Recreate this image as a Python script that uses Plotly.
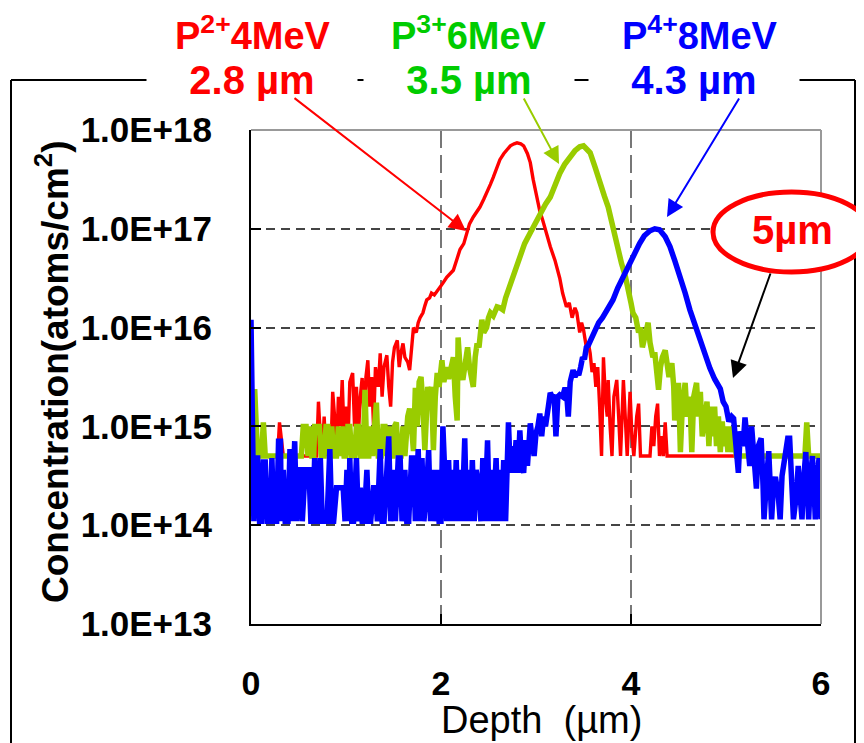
import numpy as np
import plotly.graph_objects as go

# ---------------- data (log10 of concentration, atoms/cm^2) ----------------
red_depth = [0.00,0.28,0.30,0.32,0.34,0.69,0.71,0.73,0.75,0.77,0.79,0.82,0.84,0.86,0.88,0.90,0.92,0.94,0.96,0.98,
             1.00,1.02,1.04,1.07,1.09,1.11,1.13,1.15,1.17,1.19,1.21,1.23,1.25,1.27,1.29,1.31,1.34,1.36,1.38,1.40,
             1.43,1.45,1.47,1.49,1.51,1.54,1.56,1.58,1.60,1.62,1.65,1.67,1.69,1.71,1.74,1.76,1.78,1.81,1.83,1.85,
             1.88,1.90,1.93,1.96,1.99,2.02,2.06,2.10,2.13,2.17,2.20,2.24,2.27,2.30,2.34,2.38,2.41,2.45,2.48,2.52,
             2.55,2.59,2.62,2.66,2.69,2.73,2.77,2.80,2.84,2.87,2.91,2.94,2.97,3.01,3.04,3.07,3.11,3.15,3.20,3.25,
             3.28,3.32,3.35,3.38,3.41,3.43,3.46,3.48,3.50,3.53,3.55,3.57,3.59,3.61,3.63,3.65,3.67,3.69,3.71,3.73,
             3.75,3.76,3.78,3.80,3.82,3.85,3.87,3.89,3.92,3.94,3.96,3.99,4.01,4.03,4.06,4.08,4.10,4.20,4.22,4.24,
             4.26,4.28,4.30,4.32,4.34,4.36,4.38,6.00]
red_log = [14.70,14.70,15.04,14.85,14.70,14.70,15.25,14.90,14.70,15.10,14.70,15.00,14.70,15.35,15.10,14.70,15.30,15.00,15.47,14.90,
           15.20,14.80,15.45,15.54,15.00,15.40,14.90,15.30,15.49,15.10,15.50,15.67,15.20,15.50,15.00,15.60,15.40,15.74,15.30,15.60,
           15.72,15.40,15.20,15.65,15.80,15.87,15.60,15.75,15.84,15.70,15.65,15.57,15.80,16.00,15.95,16.05,16.10,16.15,16.22,16.28,
           16.30,16.35,16.33,16.37,16.40,16.45,16.51,16.55,16.58,16.70,16.79,16.85,16.96,17.05,17.12,17.18,17.22,17.30,17.36,17.45,
           17.52,17.62,17.70,17.76,17.80,17.84,17.86,17.87,17.86,17.84,17.76,17.67,17.50,17.32,17.18,17.09,16.95,16.82,16.68,16.50,
           16.35,16.21,16.25,16.10,16.20,16.15,15.95,16.05,15.98,15.80,15.85,15.74,15.55,15.64,15.40,15.60,15.20,14.70,15.70,15.30,
           15.10,15.47,15.00,14.70,15.30,15.47,15.10,14.70,15.47,15.00,14.70,15.35,14.90,14.70,15.10,15.23,14.70,14.70,15.00,14.80,
           15.10,15.23,14.70,14.90,14.70,15.04,14.70,14.70]

green_depth = [0.00,0.04,0.06,0.07,0.11,0.13,0.15,0.53,0.55,0.58,0.60,0.62,0.64,0.66,0.67,0.70,0.72,0.74,0.77,0.79,
               0.81,0.83,0.85,0.87,0.90,0.92,0.94,0.96,0.98,1.00,1.02,1.04,1.06,1.09,1.11,1.13,1.15,1.18,1.20,1.22,
               1.24,1.26,1.28,1.30,1.32,1.34,1.37,1.39,1.41,1.43,1.45,1.47,1.49,1.51,1.53,1.55,1.58,1.60,1.62,1.65,
               1.67,1.69,1.71,1.73,1.75,1.77,1.79,1.81,1.83,1.86,1.88,1.90,1.92,1.94,1.96,1.98,2.01,2.03,2.06,2.08,
               2.10,2.13,2.15,2.17,2.18,2.20,2.23,2.25,2.28,2.30,2.32,2.34,2.36,2.38,2.40,2.43,2.45,2.48,2.50,2.52,
               2.55,2.57,2.59,2.62,2.65,2.68,2.71,2.74,2.78,2.83,2.88,2.94,2.99,3.04,3.10,3.15,3.20,3.25,3.30,3.36,
               3.41,3.46,3.50,3.54,3.57,3.62,3.67,3.72,3.76,3.80,3.83,3.87,3.90,3.94,3.97,4.00,4.02,4.05,4.08,4.10,
               4.12,4.14,4.16,4.18,4.20,4.23,4.25,4.27,4.29,4.31,4.33,4.36,4.38,4.40,4.43,4.45,4.46,4.48,4.50,4.52,
               4.54,4.57,4.59,4.62,4.64,4.66,4.69,4.71,4.73,4.75,4.78,4.80,4.82,4.84,4.86,4.88,4.90,4.92,4.94,4.96,
               4.98,5.00,5.02,5.04,5.06,5.08,5.11,5.83,5.85,5.87,6.00]
green_log = [15.35,15.35,14.90,14.70,14.70,15.04,14.70,14.70,15.00,15.00,14.70,15.00,14.70,14.70,15.00,15.00,15.00,14.70,14.70,15.00,
             15.00,14.70,15.00,14.70,14.70,15.00,14.70,15.00,14.70,14.70,15.00,15.00,14.70,14.70,15.00,15.00,14.70,14.70,15.37,14.70,
             14.70,15.00,14.70,15.00,15.24,14.70,14.70,15.00,15.00,14.70,15.00,14.70,14.70,15.00,15.04,14.70,14.70,15.00,14.70,15.10,
             15.18,15.00,14.75,15.39,15.00,15.45,15.50,15.20,14.76,15.40,15.20,15.40,14.76,15.30,15.54,15.40,15.67,15.45,15.60,15.48,
             15.55,15.70,15.30,15.06,15.90,15.60,15.47,15.65,15.80,15.60,15.50,15.40,15.70,15.84,15.80,16.08,15.95,16.00,16.10,16.15,
             16.12,16.18,16.21,16.20,16.18,16.30,16.38,16.45,16.55,16.71,16.85,16.96,17.06,17.16,17.25,17.32,17.45,17.56,17.65,17.73,
             17.79,17.83,17.84,17.80,17.77,17.63,17.46,17.33,17.22,17.05,16.92,16.78,16.65,16.52,16.41,16.25,16.15,16.10,15.95,16.00,
             15.80,15.90,15.95,16.05,15.85,15.70,15.75,15.50,15.37,15.60,15.70,15.77,15.60,15.50,15.64,15.40,15.06,15.30,15.44,14.74,
             15.20,15.44,15.10,15.30,14.74,15.30,15.44,15.10,15.35,14.90,15.13,15.25,14.80,15.20,14.90,15.20,14.80,15.10,14.74,15.05,
             14.80,15.00,14.74,15.00,14.74,14.90,14.70,14.70,15.04,14.70,14.70]

blue_depth = [0.00,0.01,0.02,0.03,0.05,0.07,0.09,0.11,0.13,0.15,0.17,0.20,0.22,0.24,0.27,0.29,0.31,0.32,0.34,0.36,
              0.39,0.41,0.43,0.46,0.48,0.50,0.52,0.54,0.57,0.59,0.61,0.63,0.65,0.67,0.69,0.71,0.73,0.75,0.78,0.80,
              0.83,0.85,0.87,0.90,0.92,0.95,0.97,0.99,1.01,1.03,1.04,1.06,1.08,1.11,1.13,1.15,1.17,1.19,1.22,1.24,
              1.26,1.29,1.31,1.33,1.36,1.38,1.40,1.42,1.45,1.47,1.50,1.52,1.55,1.57,1.59,1.62,1.64,1.66,1.69,1.71,
              1.73,1.76,1.78,1.80,1.82,1.85,1.87,1.89,1.91,1.93,1.96,1.98,2.00,2.02,2.04,2.06,2.08,2.10,2.12,2.14,
              2.16,2.18,2.20,2.22,2.25,2.27,2.29,2.31,2.33,2.35,2.37,2.40,2.42,2.44,2.46,2.49,2.51,2.53,2.55,2.58,
              2.60,2.62,2.64,2.66,2.68,2.71,2.73,2.75,2.77,2.79,2.81,2.83,2.85,2.87,2.89,2.91,2.94,2.96,2.98,3.00,
              3.02,3.04,3.06,3.08,3.10,3.13,3.15,3.17,3.19,3.21,3.23,3.25,3.28,3.30,3.32,3.34,3.36,3.39,3.41,3.43,
              3.45,3.47,3.49,3.51,3.53,3.55,3.58,3.60,3.62,3.64,3.66,3.70,3.75,3.81,3.86,3.91,3.96,4.02,4.09,4.14,
              4.20,4.25,4.30,4.36,4.41,4.46,4.52,4.57,4.62,4.68,4.73,4.78,4.83,4.88,4.94,4.97,5.00,5.03,5.06,5.08,
              5.10,5.13,5.15,5.18,5.20,5.22,5.25,5.27,5.29,5.32,5.34,5.37,5.39,5.40,5.43,5.45,5.47,5.48,5.50,5.52,
              5.55,5.57,5.59,5.62,5.65,5.67,5.69,5.71,5.74,5.76,5.78,5.80,5.82,5.84,5.86,5.87,5.89,5.91,5.93,5.94,
              5.96,5.98,5.99,6.00]
blue_log = [16.08,15.30,14.68,14.04,14.68,14.68,14.04,14.04,14.64,14.64,14.04,14.04,14.68,14.04,14.04,14.85,14.85,14.04,14.56,14.04,
            14.04,14.77,14.04,14.85,14.04,14.56,14.56,14.04,14.56,14.56,14.56,14.04,14.04,14.68,14.04,14.04,14.68,14.04,14.04,14.04,
            14.77,14.04,14.04,14.38,14.38,14.38,14.38,14.04,14.56,14.04,14.68,14.04,14.04,14.68,14.04,14.38,14.04,14.04,14.56,14.04,
            14.04,14.38,14.38,14.04,14.77,14.04,14.04,14.38,14.90,14.04,14.56,14.04,14.68,14.68,14.04,14.56,14.04,14.04,14.68,14.68,
            14.04,14.77,14.04,14.68,14.04,14.38,14.76,14.04,14.56,14.04,14.56,14.04,14.04,15.00,14.60,14.04,14.66,14.04,14.56,14.04,
            14.66,14.04,14.56,14.04,14.88,14.04,14.56,14.04,14.66,14.04,14.56,14.38,14.04,14.68,14.04,14.86,14.04,14.56,14.04,14.68,
            14.04,14.56,14.04,14.66,14.04,15.04,14.53,14.80,14.53,14.86,14.53,14.96,14.60,14.53,14.86,14.60,15.03,14.86,14.70,14.93,
            15.00,15.13,14.90,15.10,15.00,15.20,15.34,15.30,15.32,14.90,15.30,15.32,15.30,15.37,15.37,15.10,15.45,15.57,15.50,15.55,
            15.52,15.60,15.70,15.68,15.80,15.82,15.88,15.95,15.98,16.02,16.05,16.10,16.18,16.28,16.40,16.50,16.61,16.74,16.85,16.93,
            16.98,17.00,16.99,16.92,16.82,16.68,16.51,16.35,16.18,16.00,15.85,15.72,15.59,15.48,15.38,15.25,15.20,15.05,15.10,15.08,
            14.90,14.53,14.95,14.80,15.09,14.90,14.60,15.00,14.70,14.37,14.80,14.88,14.40,14.06,14.50,14.75,14.30,14.06,14.40,14.49,
            14.30,14.06,14.50,14.68,14.88,14.88,14.40,14.06,14.30,14.60,14.30,14.06,14.50,14.74,14.30,14.06,14.50,14.70,14.30,14.06,
            14.50,14.68,14.40,14.06]

x_tick_vals = [0, 2, 4, 6]
x_tick_text = ["0", "2", "4", "6"]
y_tick_vals = [1e13, 1e14, 1e15, 1e16, 1e17, 1e18]
y_tick_text = ["1.0E+13", "1.0E+14", "1.0E+15", "1.0E+16", "1.0E+17", "1.0E+18"]

RED = "#FF0000"
YG = "#99CC00"
GREEN_TXT = "#00CC00"
BLUE = "#0000FF"
FONT = "Liberation Sans, Arial, sans-serif"

# the page body adds an 8px margin; the figure is sized so it fills the window
OFF = 8
W, H = 864 - OFF, 743 - OFF
ML, MT = 251 - OFF, 130 - OFF
MR = W - (821 - OFF)
MB = H - (624 - OFF)
PW, PH = W - ML - MR, H - MT - MB


def px(xp):
    """window pixel x -> paper x"""
    return (xp - OFF - ML) / PW


def py(yp):
    """window pixel y -> paper y"""
    return (H - MB - (yp - OFF)) / PH


fig = go.Figure()
fig.add_trace(go.Scatter(x=red_depth, y=10 ** np.array(red_log), mode="lines",
                         line=dict(color=RED, width=3.4), showlegend=False))
fig.add_trace(go.Scatter(x=green_depth, y=10 ** np.array(green_log), mode="lines",
                         line=dict(color=YG, width=5.5), showlegend=False))
fig.add_trace(go.Scatter(x=blue_depth, y=10 ** np.array(blue_log), mode="lines",
                         line=dict(color=BLUE, width=5.5), showlegend=False))

shapes = [
    # outer frame (left, top, right)
    dict(type="line", xref="paper", yref="paper", x0=px(11), x1=px(11), y0=py(80), y1=py(760),
         line=dict(color="black", width=2)),
    dict(type="line", xref="paper", yref="paper", x0=px(11), x1=px(855), y0=py(80), y1=py(80),
         line=dict(color="black", width=2)),
    dict(type="line", xref="paper", yref="paper", x0=px(855), x1=px(855), y0=py(80), y1=py(760),
         line=dict(color="black", width=2)),
    # plot top and right border in gray
    dict(type="line", xref="paper", yref="paper", x0=0, x1=1, y0=1, y1=1,
         line=dict(color="#999999", width=2)),
    dict(type="line", xref="paper", yref="paper", x0=1, x1=1, y0=0, y1=1,
         line=dict(color="#999999", width=2)),
    # ellipse around 5 um
    dict(type="circle", xref="paper", yref="paper", x0=px(713), x1=px(870), y0=py(192), y1=py(272),
         line=dict(color=RED, width=5), fillcolor="white", layer="above"),
]

ann = []
def txt(text, xp, yp, color, size, bold=True, **kw):
    ann.append(dict(text=text, x=px(xp), y=py(yp), xref="paper", yref="paper", showarrow=False,
                    xanchor="center", yanchor="middle",
                    font=dict(family=FONT, size=size, color=color, weight="bold" if bold else "normal"), **kw))

txt("P<sup>2+</sup>4MeV", 253, 33, RED, 38)
txt("P<sup>3+</sup>6MeV", 469, 33, GREEN_TXT, 38)
txt("P<sup>4+</sup>8MeV", 700, 33, BLUE, 38)
txt("2.8 \u00b5m", 252, 80, RED, 40, bgcolor="white", width=208, height=42)
txt("3.5 \u00b5m", 469, 80, GREEN_TXT, 40, bgcolor="white", width=208, height=42)
txt("4.3 \u00b5m", 694, 80, BLUE, 40, bgcolor="white", width=208, height=42)
txt("5\u00b5m", 792, 230, RED, 40)
txt("Concentration(atoms/cm<sup>2</sup>)", 52, 372, "black", 37, textangle=-90)
txt("Depth  (\u00b5m)", 541, 720, "black", 38, bold=False)


def arrow(tail, tip, color, width):
    ann.append(dict(text="", x=px(tip[0]), y=py(tip[1]), xref="paper", yref="paper",
                    ax=tail[0] - tip[0], ay=tail[1] - tip[1], axref="pixel", ayref="pixel",
                    showarrow=True, arrowhead=2, arrowsize=1.7, arrowwidth=width,
                    arrowcolor=color, standoff=0))

arrow((293, 97), (466, 231), RED, 2)
arrow((523, 97), (559, 164), YG, 2)
arrow((740, 97), (667, 217), BLUE, 2)
arrow((771, 272), (733, 378), "black", 2)

fig.update_layout(
    width=W, height=H, margin=dict(l=ML, r=MR, t=MT, b=MB),
    paper_bgcolor="white", plot_bgcolor="white",
    shapes=shapes, annotations=ann,
    font=dict(family=FONT, color="black"),
)
fig.update_xaxes(range=[0, 6], tickvals=x_tick_vals, ticktext=x_tick_text,
                 showgrid=True, gridcolor="#777777", gridwidth=1.5, griddash="18px,7px",
                 showline=True, linecolor="black", linewidth=2, zeroline=False,
                 ticks="inside", ticklen=10, tickcolor="black", tickwidth=1.5,
                 ticklabelstandoff=28,
                 tickfont=dict(family=FONT, size=34, color="black", weight="bold"))
fig.update_yaxes(type="log", range=[13, 18], tickvals=y_tick_vals, ticktext=y_tick_text,
                 showgrid=True, gridcolor="#444444", gridwidth=1.5, griddash="9px,6px",
                 showline=True, linecolor="black", linewidth=2, zeroline=False,
                 ticks="inside", ticklen=10, tickcolor="black", tickwidth=1.5,
                 ticklabelstandoff=30,
                 tickfont=dict(family=FONT, size=35, color="black", weight="bold"))

fig.write_html("out.html")
